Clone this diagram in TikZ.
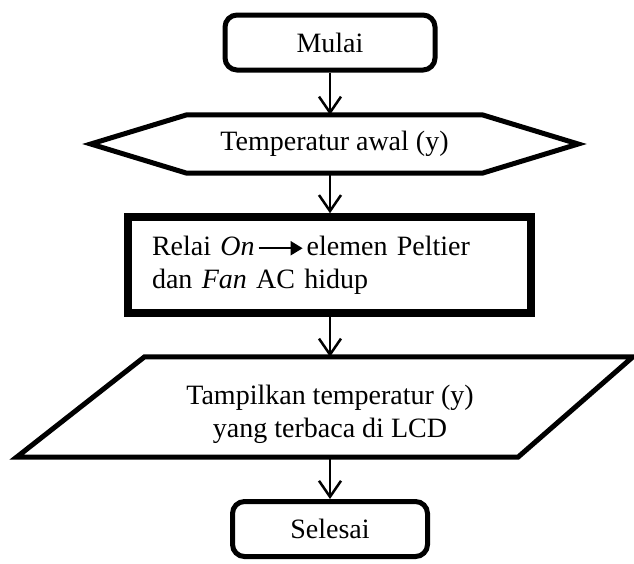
\documentclass[tikz,border=0pt]{standalone}
\usepackage{fontspec}
\setmainfont{Liberation Serif}
\usetikzlibrary{arrows.meta,calc}
\begin{document}
\begin{tikzpicture}[x=1pt,y=-1pt,
  txt/.style={font=\fontsize{28}{33}\selectfont, text=black},
  term/.style={txt, draw, line width=5pt, rounded corners=12pt, inner sep=0pt, minimum height=55pt},
  outline/.style={line width=5pt, line join=miter},
  conn/.style={line width=2.5pt, -{Straight Barb[length=16pt,width=22pt]}}]
\useasboundingbox (0,0) rectangle (634,563);
\fill[white] (0,0) rectangle (634,563);
% Start
\node[term, minimum width=210pt] (mulai) at (330,42.5) {Mulai};
% Preparation (hexagon)
\node[txt, minimum width=295pt, minimum height=58pt, inner sep=0pt] (hex) at (334.5,144) {Temperatur awal (y)};
\draw[outline] (hex.north west) -- (hex.north east) -- ($(hex.east)+(96,0)$)
  -- (hex.south east) -- (hex.south west) -- ($(hex.west)+(-96,0)$) -- cycle;
% Process
\node[txt, draw, line width=7.5pt, minimum width=403pt, minimum height=96pt,
      inner xsep=24pt, text width=355pt, align=left] (proc) at (329.5,265)
  {Relai \textit{On}\hspace{3pt}\tikz[baseline=-0.25em]\draw[line width=2pt,-{Triangle[length=12pt,width=14pt]}] (0pt,0pt) -- (44pt,0pt);\hspace{3pt}elemen Peltier\\dan \textit{Fan} AC hidup};
% Output (parallelogram)
\node[minimum width=494.5pt, minimum height=100pt, inner sep=0pt] (io) at (328,407) {};
\draw[outline] ($(io.north west)+(64,0)$) -- ($(io.north east)+(57.5,0)$)
  -- ($(io.south east)+(-57.5,0)$) -- ($(io.south west)+(-64,0)$) -- cycle;
\node[txt, align=center, inner sep=0pt] (iotxt) at ($(io.center)+(2,7)$)
  {Tampilkan temperatur (y)\\yang terbaca di LCD};
% End
\node[term, minimum width=195pt] (selesai) at (330,529) {Selesai};
% Connectors
\draw[conn] (mulai.south) -- (mulai.south |- hex.north);
\draw[conn] (mulai.south |- hex.south) -- (mulai.south |- proc.north);
\draw[conn] (mulai.south |- proc.south) -- (mulai.south |- io.north);
\draw[conn] (mulai.south |- io.south) -- (selesai.north);
\end{tikzpicture}
\end{document}
